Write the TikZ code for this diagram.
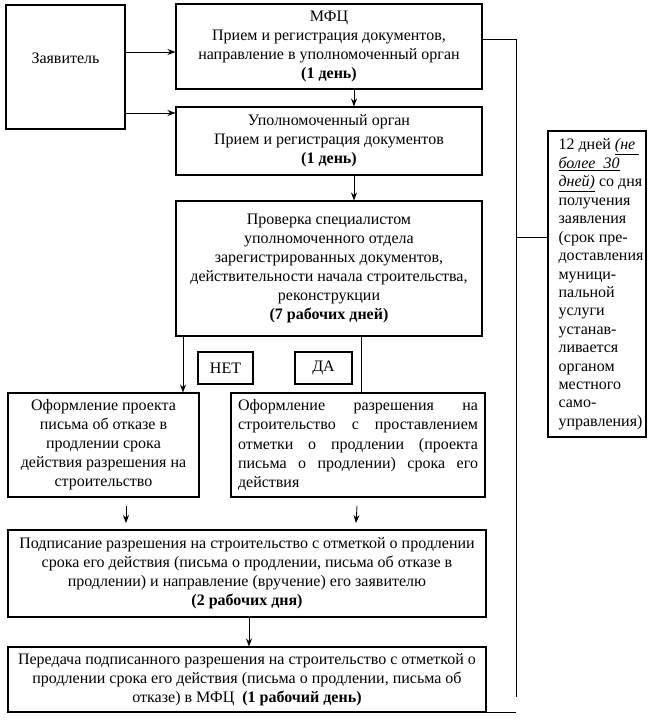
\documentclass[tikz,border=0pt]{standalone}
\usepackage{fontspec}
\setmainfont{Liberation Serif}
\usetikzlibrary{arrows.meta,calc}
\begin{document}
\begin{tikzpicture}[x=0.75pt,y=-0.75pt,
  box/.style={draw,line width=0.8pt,inner sep=0pt,font=\fontsize{12}{14.3}\selectfont,align=center},
  arr/.style={-{Stealth[length=6pt,width=4.5pt]},line width=0.6pt},
  ln/.style={line width=0.6pt}]
\useasboundingbox (0,0) rectangle (666,721);
\fill[white] (0,0) rectangle (666,721);
% boxes
\node[box,minimum width=89.25pt,minimum height=93pt] (zayav) at (65.5,67) {\raisebox{13.5pt}{Заявитель}};
\node[box,minimum width=229.5pt,minimum height=63.75pt] (mfc) at (329,46.5)
  {МФЦ\\ Прием и регистрация документов,\\ направление в уполномоченный орган\\ \textbf{(1 день)}};
\node[box,minimum width=229.5pt,minimum height=51pt] (upol) at (329,141)
  {Уполномоченный орган\\ Прием и регистрация документов\\ \textbf{(1 день)}};
\node[box,minimum width=229.5pt,minimum height=101.25pt] (prov) at (329,268.5)
  {Проверка специалистом\\ уполномоченного отдела\\ зарегистрированных документов,\\ действительности начала строительства,\\ реконструкции\\ \textbf{(7 рабочих дней)}};
\node[box,minimum width=41.25pt,minimum height=24pt] (net) at (225.5,368) {НЕТ};
\node[box,minimum width=42.75pt,minimum height=24pt] (da) at (323.5,368) {ДА};
\node[box,minimum width=143.25pt,minimum height=78pt] (otkaz) at (103.5,445)
  {Оформление проекта\\ письма об отказе в\\ продлении срока\\ действия разрешения на\\ строительство};
\node[box,minimum width=190.5pt,minimum height=78pt,align=left] (razr) at (358,445)
  {\makebox[180pt][s]{Оформление разрешения на}\\
   \makebox[180pt][s]{строительство с проставлением}\\
   \makebox[180pt][s]{отметки о продлении (проекта}\\
   \makebox[180pt][s]{письма о продлении) срока его}\\
   \makebox[180pt][l]{действия}};
\node[box,minimum width=358.5pt,minimum height=65.25pt] (podp) at (247,573.5)
  {Подписание разрешения на строительство с отметкой о продлении\\ срока его действия (письма о продлении, письма об отказе в\\ продлении) и направление (вручение) его заявителю\\ \textbf{(2 рабочих дня)}};
\node[box,minimum width=358.5pt,minimum height=48.75pt] (pered) at (247,679.5)
  {Передача подписанного разрешения на строительство с отметкой о\\ продлении срока его действия (письма о продлении, письма об\\ отказе) в МФЦ\ \ \textbf{(1 рабочий день)}};
\node[box,minimum width=73.5pt,minimum height=229.5pt,font=\fontsize{12}{13.8}\selectfont] (note) at (597,284)
  {\hspace*{6pt}\begin{tabular}{@{}l@{}}12 дней \underline{\textit{(не\ }}\\ \underline{\textit{более\ \ 30}}\\ \underline{\textit{дней)}} со дня\\ получения\\ заявления\\ (срок пре-\\ доставления\\ муници-\\ пальной\\ услуги\\ устанав-\\ ливается\\ органом\\ местного\\ само-\\ управления)\end{tabular}};
% helper coordinates
\coordinate (a1) at (0,52);
\coordinate (a2) at (0,113);
\coordinate (cx) at (354,0);
\coordinate (lx) at (183,0);
\coordinate (rx) at (361,0);
\coordinate (d1s) at (126,506);
\coordinate (d1e) at (126,523);
\coordinate (d2s) at (357,506);
\coordinate (d2e) at (356,523);
\coordinate (px) at (249,0);
\coordinate (bt) at (516,39);
\coordinate (bm) at (516,237);
\coordinate (bb) at (516,697);
% connectors
\draw[arr] (zayav.east |- a1) -- (mfc.west |- a1);
\draw[arr] (zayav.east |- a2) -- (upol.west |- a2);
\draw[arr] (mfc.south -| cx) -- (upol.north -| cx);
\draw[arr] (upol.south -| cx) -- (prov.north -| cx);
\draw[arr] (prov.south -| lx) -- (otkaz.north -| lx);
\draw[ln] (prov.south -| rx) -- (razr.north -| rx);
\draw[arr] (d1s) -- (d1e);
\draw[arr] (d2s) -- (d2e);
\draw[arr] (podp.south -| px) -- (pered.north -| px);
\draw[ln] (mfc.east |- bt) -- (bt) -- (bb);
\draw[ln] (bm) -- (note.west |- bm);
\draw[ln] (pered.south east) -- (pered.south east -| bt);
\end{tikzpicture}
\end{document}
